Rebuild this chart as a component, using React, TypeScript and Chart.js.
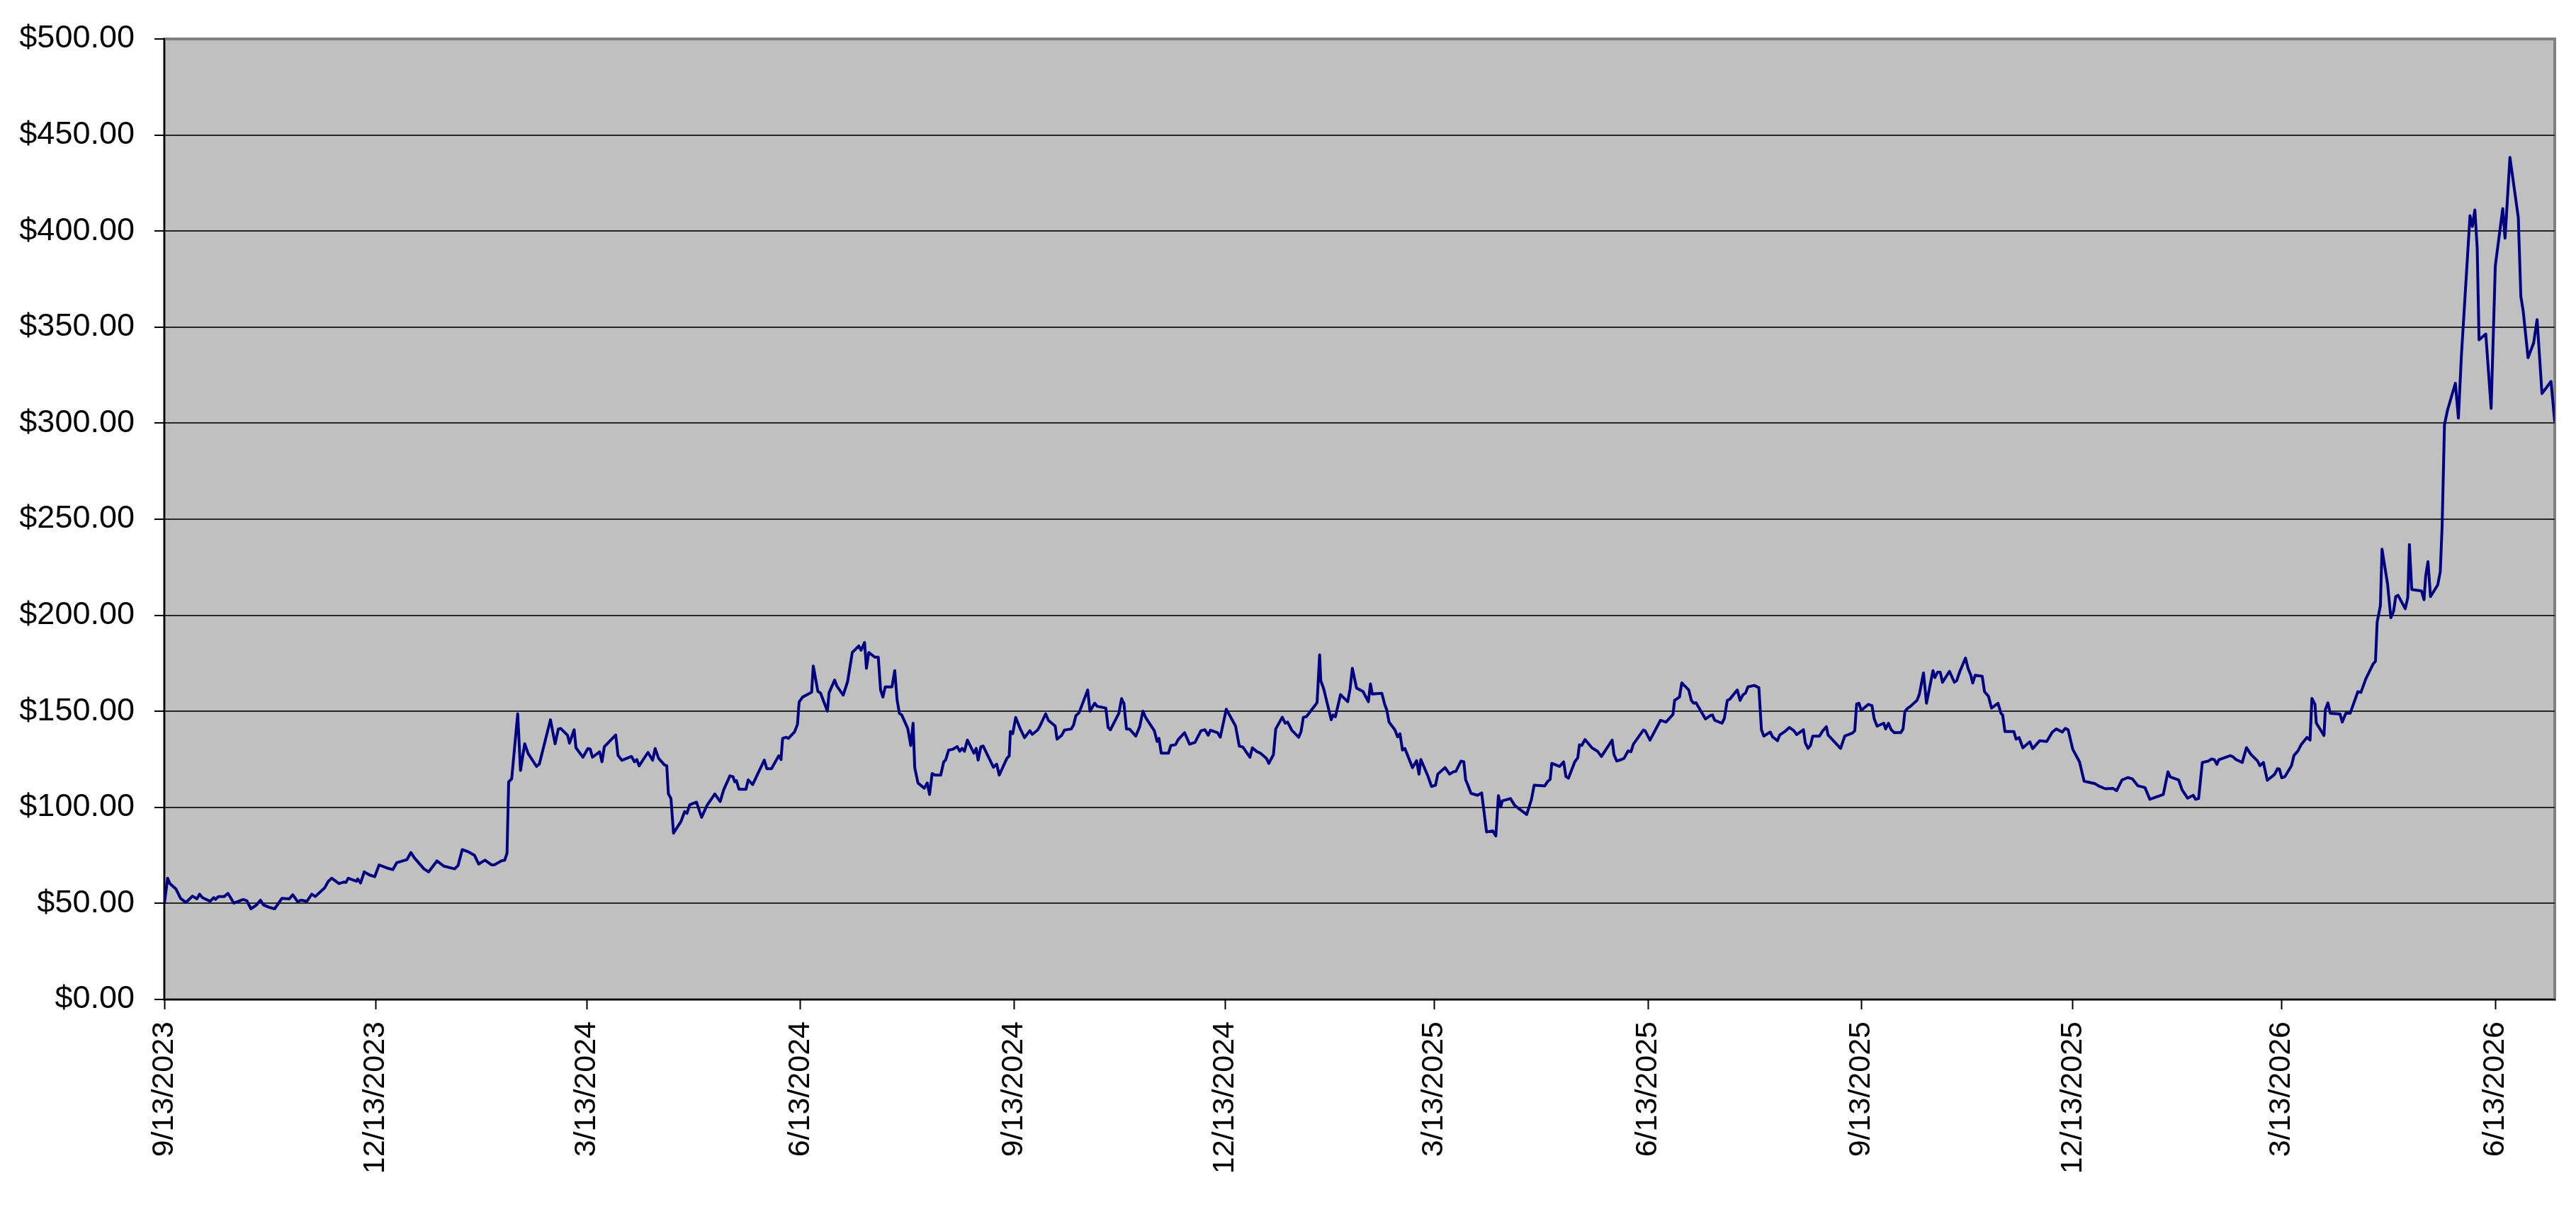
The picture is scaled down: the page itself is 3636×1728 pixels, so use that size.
import { useEffect, useRef } from 'react';
import { Chart, registerables } from 'chart.js';

Chart.register(...registerables);

// Axis labels (every 3 months)
const tickDates = [
  '9/13/2023', '12/13/2023', '3/13/2024', '6/13/2024', '9/13/2024', '12/13/2024',
  '3/13/2025', '6/13/2025', '9/13/2025', '12/13/2025', '3/13/2026', '6/13/2026',
];

const yTicks = { min: 0, max: 500, step: 50 };

// calendar days counted from 9/13/2023
const dayOffsets = [
  // Sep 2023 - Jan 2024
  0, 1.4, 2.4, 5.0, 7.0, 9.3, 12.1, 14.0, 15.2, 16.4, 19.7, 21.3, 22.1, 23.3, 25.8, 27.4, 29.9, 34.0, 35.5, 37.3,
  39.8, 41.4, 42.6, 44.9, 47.5, 50.6, 53.8, 55.3, 57.4, 58.9, 61.4, 63.5, 65.0, 69.1, 70.6, 72.1, 75.2, 77.2, 78.2,
  79.2, 82.8, 83.3, 84.5, 86.1, 88.4, 90.6, 92.5, 96.5, 98.4, 100.1, 104.5, 106.2, 107.7, 111.8, 113.8, 117.4,
  120.4, 125.0, 126.5,
  // Jan 2024 - May 2024
  128.3, 131.0, 133.6, 135.4, 138.1, 140.9, 142.2, 145.2, 146.6, 147.6, 148.3, 149.6, 152.2, 153.4, 155.2, 156.7,
  160.3, 161.5, 166.3, 168.3, 169.7, 170.7, 173.7, 174.5, 176.5, 177.3, 180.3, 182.4, 183.4, 184.4, 187.5, 188.5,
  189.5, 191.0, 194.4, 195.4, 197.1, 201.2, 202.5, 203.5, 204.5, 208.3, 210.3, 211.4, 212.9, 215.4, 216.4, 217.1,
  218.2, 219.3, 222.5, 224.1, 225.1, 226.3, 229.2, 231.4, 233.8, 237.1, 239.4, 240.9, 243.6, 244.9, 245.7, 246.4,
  247.5, 250.5, 251.5,
  // May 2024 - Sep 2024
  253.4, 258.4, 259.5, 261.5, 264.6, 265.6, 266.3, 267.8, 268.8, 271.4, 272.7, 273.4, 274.9, 278.8, 279.5, 281.5,
  282.6, 285.6, 286.3, 288.7, 289.7, 292.4, 294.3, 296.3, 299.1, 300.1, 301.6, 302.4, 303.4, 306.0, 307.5, 308.5,
  309.5, 310.5, 313.4, 314.6, 315.6, 316.6, 317.6, 320.2, 321.5, 322.5, 323.2, 324.6, 327.3, 328.6, 329.6, 330.7,
  331.9, 334.4, 335.7, 336.5, 337.8, 339.5, 341.5, 342.6, 343.6, 344.6, 345.9, 348.7, 349.7, 350.5, 351.7, 352.7,
  357.1, 358.5, 359.6, 362.9, 363.9, 364.4, 365.4, 366.7, 368.7, 370.5, 372.8, 373.8, 376.1,
  // Sep 2024 - Jan 2025
  377.0, 379.6, 380.8, 383.7, 384.5, 386.5, 387.7, 390.6, 391.6, 392.6, 394.0, 397.7, 398.7, 400.7, 401.8, 405.5,
  406.5, 407.5, 411.1, 412.3, 413.3, 414.4, 415.7, 418.4, 420.1, 421.5, 422.8, 426.4, 427.6, 428.4, 429.4, 432.5,
  433.5, 435.5, 436.7, 439.4, 441.6, 443.9, 446.5, 448.2, 449.6, 450.6, 453.6, 454.8, 457.4, 461.4, 463.0, 464.5,
  467.6, 468.6, 470.6, 472.1, 474.7, 475.7, 477.7, 478.7, 481.5, 482.8, 483.8, 485.6, 488.6, 489.6, 490.6, 491.9,
  496.5, 497.6, 498.1, 499.4,
  // Jan 2025 - May 2025
  502.6, 503.4, 504.4, 506.6, 509.7, 510.7, 511.7, 513.5, 516.3, 518.6, 519.5, 520.3, 524.4, 525.7, 526.5, 527.5,
  530.0, 531.2, 532.2, 533.3, 534.3, 537.6, 539.4, 540.4, 541.2, 544.2, 545.8, 547.5, 548.5, 551.6, 553.6, 555.2,
  556.3, 558.5, 559.7, 560.5, 561.3, 562.8, 565.6, 567.4, 569.5, 572.2, 573.5, 574.6, 575.6, 576.3, 579.8, 581.7,
  586.8, 588.8, 590.0, 594.6, 595.9, 596.9, 597.6, 601.0, 602.7, 603.7, 604.8, 607.5, 608.8, 609.5, 610.5, 611.9,
  614.9, 617.3, 619.0, 623.6, 624.4, 625.6, 627.6,
  // May 2025 - Sep 2025
  628.7, 630.5, 631.7, 632.7, 637.0, 637.8, 639.9, 644.4, 646.8, 649.8, 650.5, 652.6, 653.6, 656.6, 657.7, 658.7,
  659.7, 663.8, 665.8, 666.8, 667.8, 670.9, 671.9, 673.2, 674.2, 677.5, 678.7, 680.0, 681.0, 682.1, 684.8, 686.8,
  687.9, 688.9, 691.7, 692.7, 694.8, 695.8, 698.0, 699.9, 701.9, 703.1, 706.0, 706.8, 708.0, 709.0, 710.0, 712.9,
  714.1, 715.9, 716.6, 722.0, 723.8, 727.1, 728.1, 728.9, 729.9, 730.9, 733.9, 735.5, 736.5, 737.7, 740.6, 741.4,
  742.6, 743.8, 745.1, 747.9, 748.9, 749.7, 750.7,
  // Sep 2025 - Feb 2026
  752.1, 754.9, 755.9, 757.7, 759.0, 761.8, 762.6, 763.8, 764.9, 765.9, 768.9, 771.0, 772.0, 773.5, 775.8, 776.9,
  778.1, 778.9, 780.0, 783.0, 784.0, 785.7, 787.0, 789.8, 791.1, 791.8, 792.8, 796.6, 797.6, 798.9, 800.5, 803.5,
  804.7, 807.8, 810.8, 813.2, 814.9, 817.5, 818.8, 820.0, 822.0, 824.9, 826.9, 828.7, 831.5, 833.0, 836.0, 839.3,
  840.9, 843.2, 845.7, 847.7, 850.1, 853.1, 855.2, 861.0, 863.0, 864.0, 867.6, 869.1, 871.5, 873.9, 874.9, 876.2,
  // Feb 2026 - Jul 2026
  877.8, 880.4, 881.8, 883.0, 884.1, 884.9, 889.8, 890.9, 892.4, 895.0, 896.8, 898.7, 901.6, 902.6, 904.1, 905.8,
  908.9, 910.2, 911.0, 912.0, 913.3, 916.2, 917.3, 919.0, 920.4, 922.9, 924.2, 925.0, 926.3, 926.9, 930.2, 930.8,
  931.9, 932.9, 937.1, 938.1, 939.6, 941.5, 944.8, 946.1, 948.2, 951.4, 952.4, 953.1, 954.5, 955.2, 957.6, 959.0,
  960.2, 961.1, 962.1, 965.2, 966.3, 967.0, 968.0, 972.2, 973.3, 974.0, 975.0, 976.1, 979.2, 980.3, 981.1, 982.1,
  983.4, 986.8, 988.1, 989.4, 993.1, 994.1, 995.2, 996.2, 997.0, 999.9, 1002.2, 1004.0, 1007.2, 1008.2, 1010.3,
  1013.9, 1015.0, 1016.0, 1018.1, 1020.5, 1022.0, 1024.1, 1028.0, 1029.6,
];

const closePrices = [
  // Sep 2023 - Jan 2024
  50.0, 63.1, 60.3, 57.5, 52.6, 50.5, 53.8, 52.4, 54.8, 53.0, 51.1, 53.0, 52.1, 53.6, 53.6, 55.2, 50.2, 52.0, 51.4, 47.2,
  49.3, 51.7, 49.3, 48.1, 47.2, 52.6, 52.4, 54.5, 50.9, 51.7, 51.1, 54.8, 53.6, 58.2, 61.5, 63.1, 60.3, 61.1, 60.9,
  63.1, 61.5, 62.7, 60.6, 66.4, 64.8, 63.9, 70.0, 68.2, 67.6, 71.2, 72.8, 76.5, 73.7, 68.0, 66.4, 72.1,
  69.4, 68.0, 69.7,
  // Jan 2024 - May 2024
  78.0, 76.8, 75.0, 70.5, 72.5, 70.1, 70.1, 72.2, 72.5, 76.2, 113.3, 114.8, 148.7, 119.2, 133.1, 128.0,
  121.3, 122.5, 145.6, 133.1, 140.8, 141.1, 137.5, 133.4, 140.4, 131.0, 126.1, 130.6, 130.4, 126.1, 128.9, 123.7,
  131.6, 133.4, 137.7, 127.0, 124.5, 126.5, 123.7, 124.9, 121.6, 128.6, 124.5, 130.6, 125.5, 122.1, 121.6, 107.0,
  104.6, 86.6, 92.6, 97.8, 96.9, 101.4, 102.7, 94.8, 101.2, 107.0, 103.0, 109.1, 116.4, 116.0, 113.3, 113.9,
  109.4, 109.4, 114.3,
  // May 2024 - Sep 2024
  111.9, 124.6, 120.1, 120.1, 126.8, 124.9, 135.9, 136.5, 135.9, 139.2, 143.2, 154.8, 157.4, 159.9, 173.6, 160.3,
  159.6, 150.1, 159.6, 166.3, 163.1, 158.4, 165.5, 180.6, 184.0, 181.8, 185.8, 172.4, 180.6, 178.2, 178.2, 161.1,
  157.4, 162.7, 162.7, 171.2, 156.0, 148.9, 148.1, 141.1, 132.2, 143.8, 120.7, 112.7, 110.0, 112.7, 106.7, 117.6,
  116.8, 116.8, 123.7, 124.6, 129.8, 130.2, 131.6, 129.2, 130.7, 129.2, 135.0, 128.2, 130.7, 124.6, 131.6, 131.9,
  120.9, 122.5, 116.8, 125.5, 126.8, 139.5, 138.3, 146.8, 140.8, 136.3, 139.9, 138.0, 140.2,
  // Sep 2024 - Jan 2025
  142.0, 148.7, 145.3, 142.3, 135.5, 137.5, 140.2, 140.8, 142.8, 147.7, 149.3, 161.1, 150.1, 154.2, 152.6, 151.7,
  141.6, 140.4, 148.9, 156.6, 154.2, 140.8, 140.8, 137.1, 142.0, 150.1, 146.5, 139.9, 134.3, 135.9, 128.2, 128.2,
  132.2, 132.6, 135.3, 138.9, 132.9, 133.8, 139.9, 140.4, 137.5, 140.2, 138.9, 136.5, 151.1, 142.3, 131.9, 131.4,
  126.1, 131.0, 129.0, 128.2, 125.5, 122.9, 127.4, 140.8, 146.9, 143.8, 144.4, 140.2, 136.5, 139.5, 146.9, 147.2,
  154.5, 179.4, 166.0, 161.5,
  // Jan 2025 - May 2025
  145.6, 148.1, 147.2, 158.7, 155.0, 161.5, 172.4, 162.1, 160.3, 155.0, 164.3, 159.0, 159.4, 153.3, 150.9, 144.4,
  140.4, 136.7, 138.3, 129.8, 130.7, 120.7, 124.3, 117.3, 124.9, 116.4, 110.9, 111.5, 117.3, 120.7, 117.3, 118.5,
  118.8, 124.1, 123.7, 114.3, 112.1, 107.3, 106.3, 107.5, 87.2, 87.8, 85.1, 106.1, 100.2, 103.4, 104.6, 100.9,
  96.3, 103.9, 111.5, 111.2, 113.6, 114.6, 122.9, 121.3, 123.7, 116.0, 115.2, 123.7, 125.8, 132.6, 132.2, 135.3,
  131.0, 129.2, 126.5, 135.0, 127.4, 124.1, 124.9,
  // May 2025 - Sep 2025
  125.5, 129.4, 128.9, 132.8, 140.2, 139.9, 135.0, 145.3, 144.4, 148.4, 155.7, 157.4, 164.8, 161.1, 155.7, 154.2,
  154.5, 146.0, 147.7, 148.1, 145.3, 143.8, 146.2, 155.7, 156.2, 161.1, 155.7, 158.7, 159.4, 162.7, 163.5, 162.3,
  140.4, 137.1, 139.2, 136.7, 134.7, 137.7, 139.5, 141.6, 139.9, 137.9, 140.4, 133.5, 130.7, 132.2, 137.1, 137.1,
  139.5, 142.0, 137.7, 130.7, 137.1, 138.7, 139.9, 153.8, 154.2, 150.5, 153.6, 153.0, 146.0, 142.3, 143.8, 140.8,
  143.8, 140.4, 138.9, 138.9, 140.8, 149.9, 151.4,
  // Sep 2025 - Feb 2026
  152.6, 155.7, 158.7, 170.0, 154.2, 171.2, 167.6, 170.4, 170.4, 165.1, 170.8, 165.1, 166.0, 171.2, 177.7, 172.4,
  168.8, 164.7, 168.8, 168.2, 160.2, 157.8, 151.7, 154.2, 148.9, 148.1, 139.5, 139.5, 135.5, 136.3, 131.0, 134.1,
  130.6, 134.7, 134.3, 139.2, 140.8, 139.2, 141.1, 140.4, 130.2, 123.7, 113.6, 113.1, 112.4, 111.2, 109.7, 109.9,
  108.7, 114.3, 115.5, 114.8, 111.2, 110.3, 104.2, 106.7, 118.5, 115.8, 114.3, 109.1, 104.8, 106.3, 104.2, 104.6,
  // Feb 2026 - Jul 2026
  123.4, 124.1, 125.2, 124.8, 122.4, 124.8, 126.9, 126.4, 124.8, 123.4, 131.1, 127.6, 124.1, 121.7, 123.4, 114.1,
  117.1, 120.1, 119.9, 115.4, 115.9, 121.7, 127.1, 129.4, 132.7, 136.4, 135.0, 156.7, 153.7, 143.9, 137.4, 150.9,
  154.4, 149.0, 148.6, 144.4, 149.0, 149.0, 160.2, 159.8, 166.8, 174.7, 176.1, 196.4, 205.0, 234.4, 216.2, 198.7,
  202.2, 209.7, 210.4, 203.4, 209.2, 236.8, 213.4, 212.7, 208.1, 220.4, 227.9, 209.7, 215.8, 222.8, 246.6, 299.1,
  306.7, 320.8, 302.6, 335.2, 408.0, 402.4, 411.0, 391.2, 343.4, 346.4, 307.7, 381.9, 411.7, 396.3, 438.3,
  407.1, 366.0, 358.5, 334.1, 341.7, 353.9, 315.4, 321.7, 300.7,
];

const START = Date.UTC(2023, 8, 13);
const toDay = (s: string) => {
  const [m, d, y] = s.split('/').map(Number);
  return Math.round((Date.UTC(y, m - 1, d) - START) / 86400000);
};
const tickDays = tickDates.map(toDay);

const FONT = '"Liberation Sans", Arial, Helvetica, sans-serif';

// grey plot area with the darker frame, like the spreadsheet chart
const plotAreaPlugin = {
  id: 'plotArea',
  beforeDraw(chart: Chart) {
    const { ctx, chartArea } = chart;
    if (!chartArea) return;
    ctx.save();
    ctx.fillStyle = '#C0C0C0';
    ctx.fillRect(chartArea.left, chartArea.top, chartArea.right - chartArea.left, chartArea.bottom - chartArea.top);
    ctx.strokeStyle = '#808080';
    ctx.lineWidth = 4;
    ctx.strokeRect(chartArea.left, chartArea.top, chartArea.right - chartArea.left, chartArea.bottom - chartArea.top);
    ctx.restore();
  },
};

export default function App() {
  const canvasRef = useRef<HTMLCanvasElement | null>(null);
  const chartRef = useRef<Chart | null>(null);

  useEffect(() => {
    document.body.style.margin = '0';
    document.body.style.overflow = 'hidden';
    if (!canvasRef.current) return;
    if (chartRef.current) chartRef.current.destroy();

    const points = dayOffsets.map((x, i) => ({ x, y: closePrices[i] }));

    chartRef.current = new Chart(canvasRef.current, {
      type: 'line',
      data: {
        datasets: [
          {
            label: 'Price',
            data: points,
            borderColor: '#000080',
            borderWidth: 4,
            borderJoinStyle: 'round',
            pointRadius: 0,
            tension: 0,
            fill: false,
          },
        ],
      },
      options: {
        animation: false,
        responsive: true,
        maintainAspectRatio: false,
        layout: { padding: { top: 44, right: 30, left: 0, bottom: 0 } },
        plugins: {
          legend: { display: false },
          tooltip: { enabled: false },
        },
        scales: {
          x: {
            type: 'linear',
            min: 0,
            max: dayOffsets[dayOffsets.length - 1],
            afterBuildTicks: (scale: any) => {
              scale.ticks = tickDays.map((value) => ({ value }));
            },
            afterFit: (scale: any) => {
              scale.height = 317;
            },
            grid: {
              drawOnChartArea: false,
              drawTicks: true,
              tickLength: 14,
              tickColor: '#000',
              tickWidth: 2,
            },
            border: { display: true, color: '#000', width: 2 },
            ticks: {
              autoSkip: false,
              minRotation: 90,
              maxRotation: 90,
              padding: 17,
              color: '#000',
              font: { family: FONT, size: 43 },
              callback: (value: any) => {
                const i = tickDays.indexOf(Number(value));
                return i >= 0 ? tickDates[i] : '';
              },
            },
          },
          y: {
            min: yTicks.min,
            max: yTicks.max,
            afterFit: (scale: any) => {
              scale.width = 232;
            },
            grid: {
              color: (c: any) => (c.tick && c.tick.value === yTicks.max ? 'rgba(0,0,0,0)' : '#262626'),
              lineWidth: 2,
              drawTicks: true,
              tickLength: 14,
              tickColor: '#000',
              tickWidth: 2,
            },
            border: { display: true, color: '#000', width: 2 },
            ticks: {
              stepSize: yTicks.step,
              padding: 28,
              color: '#000',
              font: { family: FONT, size: 45 },
              callback: (value: any) => '$' + Number(value).toFixed(2),
            },
          },
        },
      },
      plugins: [plotAreaPlugin],
    });

    return () => {
      if (chartRef.current) {
        chartRef.current.destroy();
        chartRef.current = null;
      }
    };
  }, []);

  return (
    <div style={{ width: 3636, height: 1728, position: 'relative', background: '#fff' }}>
      <canvas ref={canvasRef} />
    </div>
  );
}
